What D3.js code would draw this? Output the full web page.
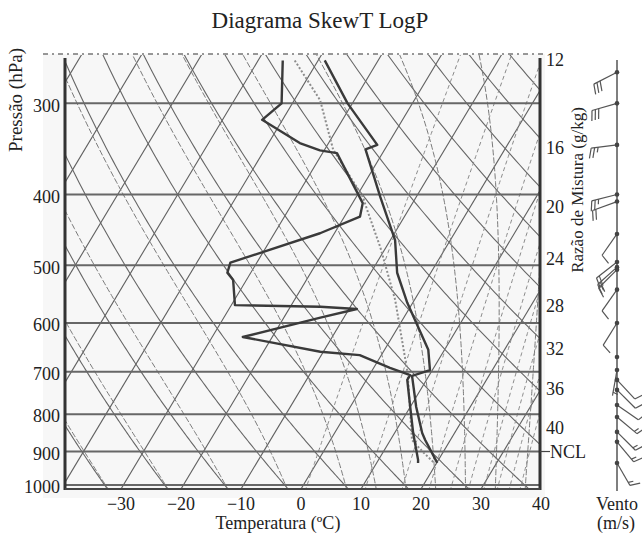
<!DOCTYPE html>
<html>
<head>
<meta charset="utf-8">
<script src="https://cdn.jsdelivr.net/npm/d3@7"></script>
<style>
  body { margin: 0; background: #fff; }
  text { font-family: "Liberation Serif", "Times New Roman", serif; fill: #222; }
</style>
</head>
<body>
<div id="chart"></div>
<script>
// axis ticks
const pressureTicks = [300, 400, 500, 600, 700, 800, 900, 1000];
const tempTicks = [-30, -20, -10, 0, 10, 20, 30, 40];

// background families of the diagram
const isothermValues = [-80, -70, -60, -50, -40, -30, -20, -10, 0, 10, 20, 30, 40];
const dryAdiabatThetas = [240, 250, 260, 270, 280, 290, 300, 310, 320, 330, 340, 350, 360, 370, 380, 390, 400];
const moistAdiabatStarts = [-33, -23, -13, -3, 7, 12, 17, 22, 27, 32, 37]; // degC at 1000 hPa
const mixingRatios = [4, 8, 12, 16, 20, 24, 28, 32, 36, 40];               // g/kg
const mixingLabels = [12, 16, 20, 24, 28, 32, 36, 40];
const nclPressure = 900;

// sounding (pressure hPa, degC)
const temperature = [
  {p: 262, t: -38.9}, {p: 300, t: -30.8}, {p: 342, t: -21.7}, {p: 347, t: -23.2},
  {p: 403, t: -16.0}, {p: 462, t: -9.2}, {p: 512, t: -5.6}, {p: 563, t: -0.9},
  {p: 653, t: 7.3}, {p: 696, t: 9.6}, {p: 709, t: 7.2}, {p: 782, t: 11.0},
  {p: 849, t: 14.6}, {p: 868, t: 15.8}, {p: 933, t: 20.1}
];
const dewpoint = [
  {p: 262, t: -45.9}, {p: 300, t: -41.8}, {p: 316, t: -43.4}, {p: 340, t: -34.8},
  {p: 348, t: -30.7}, {p: 351, t: -27.6}, {p: 411, t: -18.3}, {p: 429, t: -17.4},
  {p: 452, t: -22.4}, {p: 496, t: -34.4}, {p: 512, t: -33.9}, {p: 524, t: -32.2},
  {p: 567, t: -29.4}, {p: 570, t: -15.0}, {p: 574, t: -8.7}, {p: 590, t: -13.9},
  {p: 627, t: -24.9}, {p: 657, t: -10.5}, {p: 664, t: -3.6}, {p: 691, t: 2.7},
  {p: 707, t: 6.8}, {p: 718, t: 6.8}, {p: 782, t: 10.0}, {p: 849, t: 13.1},
  {p: 924, t: 16.6}, {p: 933, t: 16.9}
];
const parcel = [
  {p: 262, t: -43.9}, {p: 297, t: -35.7}, {p: 347, t: -28.6}, {p: 403, t: -18.9},
  {p: 424, t: -16.4}, {p: 472, t: -11.0}, {p: 558, t: -3.2}, {p: 703, t: 6.2},
  {p: 868, t: 13.6}, {p: 900, t: 16.5}, {p: 933, t: 19.6}
];

// wind barbs: pressure, direction (deg), speed (m/s)
const winds = [
  {p: 272, dir: 243, spd: 30}, {p: 300, dir: 254, spd: 30}, {p: 342, dir: 263, spd: 25},
  {p: 400, dir: 256, spd: 25}, {p: 409, dir: 250, spd: 20}, {p: 453, dir: 215, spd: 10},
  {p: 495, dir: 232, spd: 20}, {p: 503, dir: 228, spd: 20}, {p: 507, dir: 225, spd: 15},
  {p: 540, dir: 215, spd: 10}, {p: 600, dir: 212, spd: 10}, {p: 668, dir: 200, spd: 0},
  {p: 696, dir: 190, spd: 5}, {p: 718, dir: 137, spd: 10}, {p: 741, dir: 135, spd: 10},
  {p: 777, dir: 125, spd: 10}, {p: 807, dir: 130, spd: 15}, {p: 846, dir: 135, spd: 15},
  {p: 873, dir: 140, spd: 15}, {p: 933, dir: 150, spd: 15}
];

const W = 642, H = 535;
const plotLeft = 65, plotRight = 540, plotTop = 58, plotBottom = 489;
const skew = 0.6;

const svg = d3.select("#chart").append("svg").attr("width", W).attr("height", H);

const x = d3.scaleLinear().domain([-30, 40]).range([121, 541]);
const y = d3.scaleLog().domain([1013, 260]).range([plotBottom, plotTop]);
const sx = (t, p) => x(t) + skew * (plotBottom - y(p));

svg.append("rect").attr("x", 43).attr("y", 54).attr("width", 502).attr("height", 444).attr("fill", "#f7f7f7");

svg.append("clipPath").attr("id", "plotClip")
  .append("rect").attr("x", plotLeft).attr("y", 55).attr("width", plotRight - plotLeft).attr("height", plotBottom - 55);

const grid = svg.append("g").attr("clip-path", "url(#plotClip)");
const line = d3.line().x(d => sx(d.t, d.p)).y(d => y(d.p));

const levels = d3.range(1020, 245, -5);

// isotherms
grid.selectAll(".iso").data(isothermValues).enter().append("line")
  .attr("x1", t => sx(t, 1020)).attr("y1", y(1020))
  .attr("x2", t => sx(t, 245)).attr("y2", y(245))
  .attr("stroke", "#5f5f5f").attr("stroke-width", 1.1);

// dry adiabats
grid.selectAll(".dry").data(dryAdiabatThetas).enter().append("path")
  .attr("d", th => line(levels.map(p => ({p, t: th * Math.pow(p / 1000, 0.286) - 273.15}))))
  .attr("fill", "none").attr("stroke", "#666").attr("stroke-width", 1.1);

// moist adiabats
function es(tc) { return 6.112 * Math.exp(17.67 * tc / (tc + 243.5)); }
function moistRate(p, tk) {
  const e = es(tk - 273.15);
  const rs = 0.622 * e / (p - e);
  const Rd = 287.04, Cp = 1005.7, Lv = 2.501e6;
  return (Rd * tk + Lv * rs) / (Cp + (Lv * Lv * rs * 0.622) / (Rd * tk * tk)) / p;
}
function moistCurve(t0) {
  const pts = [];
  let tk = t0 + 273.15;
  for (let p = 1000; p >= 245; p -= 5) {
    pts.push({p, t: tk - 273.15});
    const k1 = moistRate(p, tk);
    const k2 = moistRate(p - 2.5, tk - 2.5 * k1);
    tk -= 5 * k2;
  }
  tk = t0 + 273.15;
  for (let p = 1000; p < 1020; p += 5) {
    const k1 = moistRate(p, tk);
    const k2 = moistRate(p + 2.5, tk + 2.5 * k1);
    tk += 5 * k2;
    pts.unshift({p: p + 5, t: tk - 273.15});
  }
  return pts;
}
grid.selectAll(".moist").data(moistAdiabatStarts).enter().append("path")
  .attr("d", t0 => line(moistCurve(t0)))
  .attr("fill", "none").attr("stroke", "#7a7a7a").attr("stroke-width", 1)
  .attr("stroke-dasharray", "6,2");

// mixing ratio lines
function tdFromW(p, w) {
  const e = (w / 1000) * p / (0.622 + w / 1000);
  const l = Math.log(e / 6.112);
  return 243.5 * l / (17.67 - l);
}
grid.selectAll(".mix").data(mixingRatios).enter().append("path")
  .attr("d", w => line(levels.map(p => ({p, t: tdFromW(p, w)}))))
  .attr("fill", "none").attr("stroke", "#8a8a8a").attr("stroke-width", 1)
  .attr("stroke-dasharray", "4,3");

// isobars
svg.selectAll(".isobar").data(pressureTicks).enter().append("line")
  .attr("x1", plotLeft).attr("x2", plotRight)
  .attr("y1", p => y(p)).attr("y2", p => y(p))
  .attr("stroke", "#676767").attr("stroke-width", 2);

// sounding lines
svg.append("path").datum(parcel).attr("d", line)
  .attr("fill", "none").attr("stroke", "#8c8c8c").attr("stroke-width", 2)
  .attr("stroke-dasharray", "2,2");
svg.append("path").datum(dewpoint).attr("d", line)
  .attr("fill", "none").attr("stroke", "#3a3a3a").attr("stroke-width", 2.4)
  .attr("stroke-linejoin", "round");
svg.append("path").datum(temperature).attr("d", line)
  .attr("fill", "none").attr("stroke", "#3a3a3a").attr("stroke-width", 2.4)
  .attr("stroke-linejoin", "round");

// frame
svg.append("line").attr("x1", 43).attr("x2", 545).attr("y1", 54).attr("y2", 54)
  .attr("stroke", "#777").attr("stroke-width", 1.5).attr("stroke-dasharray", "5,4,2,4");
svg.append("line").attr("x1", plotLeft).attr("x2", plotLeft).attr("y1", plotTop).attr("y2", plotBottom + 1)
  .attr("stroke", "#333").attr("stroke-width", 3);
svg.append("line").attr("x1", plotRight).attr("x2", plotRight).attr("y1", plotTop).attr("y2", plotBottom + 1)
  .attr("stroke", "#333").attr("stroke-width", 3);
svg.append("line").attr("x1", plotLeft).attr("x2", plotRight).attr("y1", plotBottom).attr("y2", plotBottom)
  .attr("stroke", "#444").attr("stroke-width", 2);

// axis labels
svg.selectAll(".plab").data(pressureTicks).enter().append("text")
  .attr("x", 60).attr("y", p => y(p) + 2).attr("dy", "0.35em")
  .attr("text-anchor", "end").style("font-size", "18px").text(p => p);
svg.selectAll(".tlab").data(tempTicks).enter().append("text")
  .attr("x", t => x(t)).attr("y", 510)
  .attr("text-anchor", "middle").style("font-size", "18px")
  .text(t => t < 0 ? "\u2212" + Math.abs(t) : t);

// mixing ratio labels, placed just under where each line leaves the right edge
function crossRight(w) {
  let lo = 260, hi = 1013;
  if (sx(tdFromW(lo, w), lo) < plotRight) return 260;
  for (let i = 0; i < 40; i++) {
    const mid = (lo + hi) / 2;
    if (sx(tdFromW(mid, w), mid) > plotRight) lo = mid; else hi = mid;
  }
  return lo;
}
function labelY(w) {
  const yc = y(crossRight(w));
  return yc < 72 ? 60 : yc + 15;
}
svg.selectAll(".wlab").data(mixingLabels).enter().append("text")
  .attr("x", 546).attr("y", labelY).attr("dy", "0.35em")
  .style("font-size", "18px").text(w => w);

svg.append("line").attr("x1", plotRight).attr("x2", 550)
  .attr("y1", y(nclPressure)).attr("y2", y(nclPressure))
  .attr("stroke", "#444").attr("stroke-width", 1.2);
svg.append("text").attr("x", 550).attr("y", y(nclPressure)).attr("dy", "0.35em")
  .style("font-size", "18px").text("NCL");

svg.append("text").attr("x", 320).attr("y", 28).attr("text-anchor", "middle")
  .style("font-size", "23px").text("Diagrama SkewT LogP");
svg.append("text").attr("x", 278).attr("y", 529).attr("text-anchor", "middle")
  .style("font-size", "18px").text("Temperatura (ºC)");
svg.append("text").attr("transform", "translate(22,100) rotate(-90)")
  .attr("text-anchor", "middle").style("font-size", "19px").text("Pressão (hPa)");
svg.append("text").attr("transform", "translate(583,190) rotate(-90)")
  .attr("text-anchor", "middle").style("font-size", "17px").text("Razão de Mistura (g/kg)");
svg.append("text").attr("x", 617).attr("y", 510).attr("text-anchor", "middle")
  .style("font-size", "18px").text("Vento");
svg.append("text").attr("x", 616).attr("y", 529).attr("text-anchor", "middle")
  .style("font-size", "18px").text("(m/s)");

// wind profile
const staffX = 617;
const wind = svg.append("g");
wind.append("line").attr("x1", staffX).attr("x2", staffX).attr("y1", 60).attr("y2", 491)
  .attr("stroke", "#555").attr("stroke-width", 1.5);

winds.forEach(d => {
  const cy = y(d.p);
  const rad = d.dir * Math.PI / 180;
  const ux = Math.sin(rad), uy = -Math.cos(rad);
  const L = 26;
  const tx = staffX + ux * L, ty = cy + uy * L;
  const g = wind.append("g").attr("stroke", "#555").attr("stroke-width", 1.2).attr("fill", "none");
  wind.append("circle").attr("cx", staffX).attr("cy", cy).attr("r", 2.3).attr("fill", "#444");
  if (d.spd <= 0) return;
  g.append("line").attr("x1", staffX).attr("y1", cy).attr("x2", tx).attr("y2", ty);
  const pxv = uy, pyv = -ux;
  let pos = 0;
  const full = Math.floor(d.spd / 10), half = (d.spd % 10) >= 5 ? 1 : 0;
  for (let i = 0; i < full; i++) {
    const bx = tx - ux * pos, by = ty - uy * pos;
    g.append("line").attr("x1", bx).attr("y1", by)
      .attr("x2", bx + pxv * 10 + ux * 3).attr("y2", by + pyv * 10 + uy * 3);
    pos += 3.5;
  }
  if (half) {
    if (full === 0) pos = 3.5;
    const bx = tx - ux * pos, by = ty - uy * pos;
    g.append("line").attr("x1", bx).attr("y1", by)
      .attr("x2", bx + pxv * 5 + ux * 1.5).attr("y2", by + pyv * 5 + uy * 1.5);
  }
});
</script>
</body>
</html>
